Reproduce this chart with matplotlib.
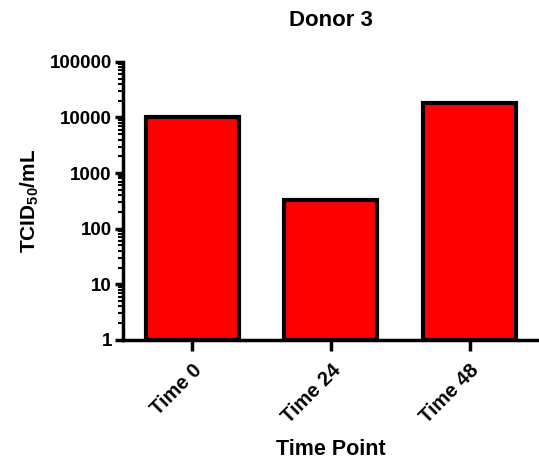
import matplotlib
matplotlib.use("Agg")
import matplotlib.pyplot as plt
from matplotlib.ticker import LogLocator, FixedLocator, NullFormatter
import numpy as np

plt.rcParams["font.family"] = ["Liberation Sans", "DejaVu Sans"]
plt.rcParams["font.weight"] = "bold"
plt.rcParams["mathtext.fontset"] = "custom"
plt.rcParams["mathtext.rm"] = "Liberation Sans:bold"
plt.rcParams["mathtext.it"] = "Liberation Sans:bold"
plt.rcParams["mathtext.bf"] = "Liberation Sans:bold"

# dados
categorias = ["Time 0", "Time 24", "Time 48"]
valores = [10000, 330, 18500]
yticks = [1, 10, 100, 1000, 10000, 100000]
ytick_labels = ["1", "10", "100", "1000", "10000", "100000"]

fig = plt.figure(figsize=(5.39, 4.65), dpi=100)
ax = fig.add_axes([0.228, 0.269, 0.772, 0.598])

x = np.arange(len(categorias))
ax.bar(x, valores, width=0.67, color="#ff0000", edgecolor="black", linewidth=3, bottom=1)

ax.set_yscale("log")
ax.set_ylim(1, 100000)
ax.set_xlim(-0.5, 2.5)
ax.yaxis.set_major_locator(FixedLocator(yticks))
ax.set_yticklabels(ytick_labels, fontsize=13.5, fontweight="bold")
ax.yaxis.set_minor_locator(LogLocator(base=10, subs=np.arange(2, 10)))
ax.yaxis.set_minor_formatter(NullFormatter())

ax.set_xticks(x)
ax.set_xticklabels(categorias, rotation=45, ha="right", rotation_mode="anchor",
                   fontsize=14.5, fontweight="bold")

ax.spines["top"].set_visible(False)
ax.spines["right"].set_visible(False)
ax.spines["left"].set_linewidth(2.5)
ax.spines["bottom"].set_linewidth(2.5)
ax.tick_params(axis="y", which="major", width=2.5, length=6, pad=2)
ax.tick_params(axis="x", which="major", width=2.5, length=8, pad=7)
ax.tick_params(axis="y", which="minor", width=1.5, length=3.5)

ax.set_title("Donor 3", fontsize=16, fontweight="bold", pad=26)
ax.set_ylabel("TCID$_{50}$/mL", fontsize=15, fontweight="bold", labelpad=6)
ax.set_xlabel("Time Point", fontsize=15.5, fontweight="bold", labelpad=9)

fig.savefig("out.png", dpi=100)
